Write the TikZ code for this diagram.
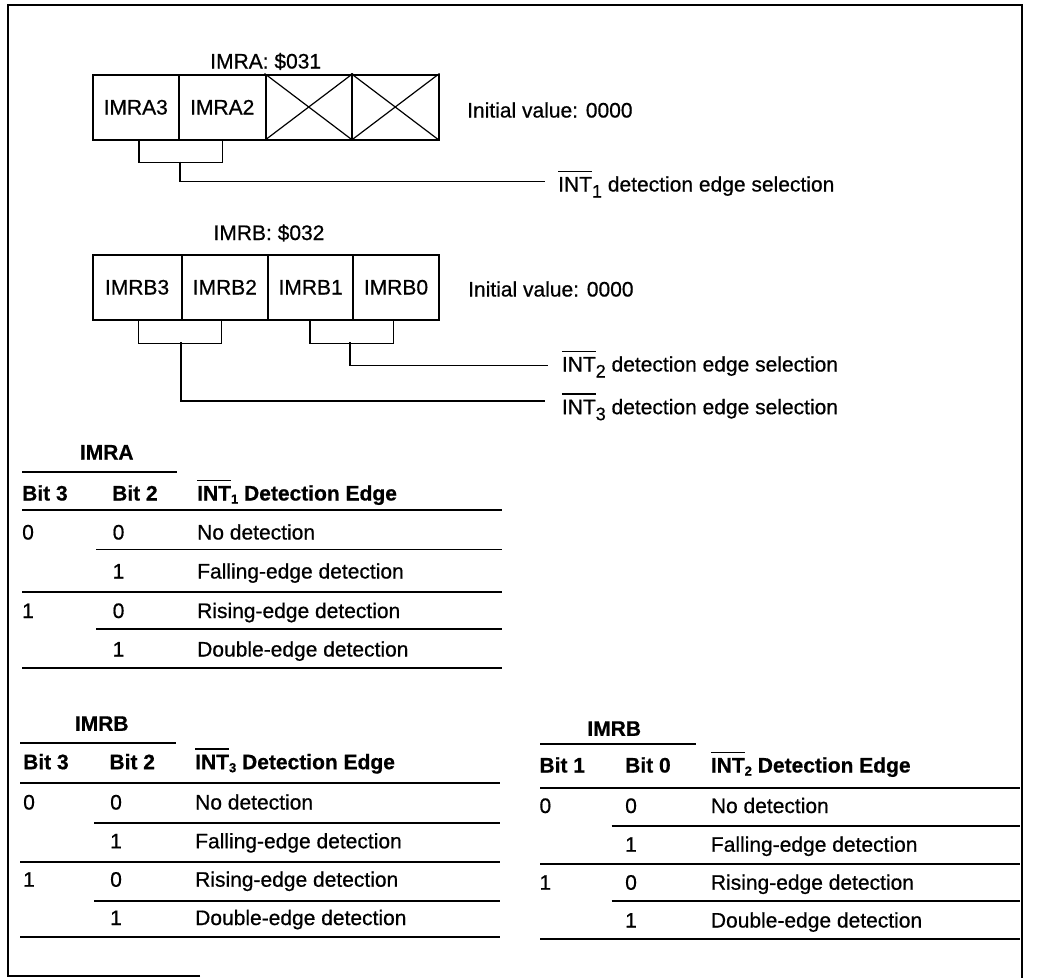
\documentclass[tikz,border=0pt]{standalone}
\usepackage{fontspec}
\setmainfont{Liberation Sans}[FakeBold=0.6]
\newcommand\ovl[1]{\leavevmode\vbox{\hrule height 1.4pt\kern 5pt\hbox{#1}}}
\newcommand\rsub[1]{\raisebox{-6pt}{\fontsize{18}{18}\selectfont #1}}
\newcommand\hsub[1]{\raisebox{-3pt}{\fontsize{13}{13}\selectfont #1}}
\tikzset{
  txt/.style={font=\fontsize{21}{25}\selectfont, inner sep=0pt, text height=15pt, text depth=0pt},
  lt/.style={txt, anchor=west},
  bt/.style={txt, anchor=west, font=\fontsize{21}{25}\selectfont\bfseries},
  btc/.style={txt, anchor=center, font=\fontsize{21}{25}\selectfont\bfseries},
  regcell/.style={draw, line width=2pt, txt, minimum height=65pt},
  cross/.style={line width=1.2pt},
  conn/.style={line width=1.3pt},
  tabrule/.style={line width=1.8pt},
  framestyle/.style={line width=2.5pt}
}
\begin{document}
\begin{tikzpicture}[x=1pt,y=-1pt]
\useasboundingbox (0,0) rectangle (1038,978);
% frame
\draw[framestyle] (200,976) -- (8,976) -- (8,5) -- (1022,5) -- (1022,978);

% ---------------- IMRA register
\node[txt] (ta) at (265.7,61) {IMRA: \$031};
\node[regcell, minimum width=86.5pt] (a3) at (135.75,107) {IMRA3};
\node[regcell, minimum width=86.5pt] (a2) at (222.25,107) {IMRA2};
\node[regcell, minimum width=86.5pt] (a1) at (308.75,107) {};
\node[regcell, minimum width=86.5pt] (a0) at (395.25,107) {};
\draw[cross] (a1.north west) -- (a1.south east) (a1.south west) -- (a1.north east);
\draw[cross] (a0.north west) -- (a0.south east) (a0.south west) -- (a0.north east);
\node[lt] (iva) at (467,110) {Initial value: 0000};
\node[lt] (l1) at (558,184) {\ovl{INT}\rsub{1} detection edge selection};
\draw[conn] ([xshift=3.2pt]a3.south) -- ++(0,21.7) -| ([xshift=0.4pt]a2.south);
\coordinate (ja) at (180,161.7);
\draw[conn] (ja) |- ([xshift=-13pt,yshift=2.3pt]l1.west);

% ---------------- IMRB register
\node[txt] (tb) at (269,232.5) {IMRB: \$032};
\node[regcell, minimum width=89.2pt] (b3) at (137.1,287) {IMRB3};
\node[regcell, minimum width=86.3pt] (b2) at (224.85,287) {IMRB2};
\node[regcell, minimum width=85.3pt] (b1) at (310.65,287) {IMRB1};
\node[regcell, minimum width=85.4pt] (b0) at (396,287) {IMRB0};
\node[lt] (ivb) at (468,289) {Initial value: 0000};
\node[lt] (l2) at (561.7,364) {\ovl{INT}\rsub{2} detection edge selection};
\node[lt] (l3) at (561.7,406.7) {\ovl{INT}\rsub{3} detection edge selection};
\draw[conn] ([xshift=1.2pt]b3.south) -- ++(0,22.8) -| ([xshift=-3.1pt]b2.south);
\draw[conn] ([xshift=-0.6pt]b1.south) -- ++(0,22.8) -| ([xshift=-2.7pt]b0.south);
\coordinate (jb32) at (181,342.3);
\coordinate (jb10) at (350,342.3);
\draw[conn] (jb10) |- ([xshift=-13.7pt,yshift=-1.7pt]l2.west);
\draw[conn] (jb32) |- ([xshift=-16.7pt,yshift=5.7pt]l3.west);

% ---------------- Table IMRA (INT1)
\node[btc] (tAt) at (106.7,452) {IMRA};
\node[bt] (tAh1) at (22,493) {Bit 3};
\node[bt] (tAh2) at (112,493) {Bit 2};
\node[bt] (tAh3) at (197,493) {\ovl{INT}\hsub{1} Detection Edge};
\node[lt] (tA11) at (22,532) {0};
\node[lt] (tA12) at (112.5,532) {0};
\node[lt] (tA13) at (197,532) {No detection};
\node[lt] (tA22) at (112.5,571) {1};
\node[lt] (tA23) at (197,571) {Falling-edge detection};
\node[lt] (tA31) at (22,610.5) {1};
\node[lt] (tA32) at (112.5,610.5) {0};
\node[lt] (tA33) at (197,610.5) {Rising-edge detection};
\node[lt] (tA42) at (112.5,649) {1};
\node[lt] (tA43) at (197,649) {Double-edge detection};
\draw[tabrule] (22,471.7) -- (176.7,471.7);
\draw[tabrule] (22,510) -- (501.7,510);
\draw[tabrule] (96,549.5) -- (501.7,549.5);
\draw[tabrule] (22,592) -- (501.7,592);
\draw[tabrule] (96,629.3) -- (501.7,629.3);
\draw[tabrule] (22,668.3) -- (501.7,668.3);

% ---------------- Table IMRB (INT3)
\node[btc] (tBt) at (101.7,723.3) {IMRB};
\node[bt] (tBh1) at (23,761.7) {Bit 3};
\node[bt] (tBh2) at (109.3,761.7) {Bit 2};
\node[bt] (tBh3) at (195,761.7) {\ovl{INT}\hsub{3} Detection Edge};
\node[lt] (tB11) at (23,802) {0};
\node[lt] (tB12) at (110,802) {0};
\node[lt] (tB13) at (195,802) {No detection};
\node[lt] (tB22) at (110,840.8) {1};
\node[lt] (tB23) at (195,840.8) {Falling-edge detection};
\node[lt] (tB31) at (23,879.2) {1};
\node[lt] (tB32) at (110,879.2) {0};
\node[lt] (tB33) at (195,879.2) {Rising-edge detection};
\node[lt] (tB42) at (110,917.5) {1};
\node[lt] (tB43) at (195,917.5) {Double-edge detection};
\draw[tabrule] (20,742.7) -- (176,742.7);
\draw[tabrule] (20,783.3) -- (500,783.3);
\draw[tabrule] (94,823.3) -- (500,823.3);
\draw[tabrule] (20,861.7) -- (500,861.7);
\draw[tabrule] (94,900.7) -- (500,900.7);
\draw[tabrule] (20,937.3) -- (500,937.3);

% ---------------- Table IMRB (INT2)
\node[btc] (tCt) at (614.2,728.3) {IMRB};
\node[bt] (tCh1) at (539.3,765) {Bit 1};
\node[bt] (tCh2) at (625,765) {Bit 0};
\node[bt] (tCh3) at (710.7,765) {\ovl{INT}\hsub{2} Detection Edge};
\node[lt] (tC11) at (539.3,805.5) {0};
\node[lt] (tC12) at (625,805.5) {0};
\node[lt] (tC13) at (710.7,805.5) {No detection};
\node[lt] (tC22) at (625,844.2) {1};
\node[lt] (tC23) at (710.7,844.2) {Falling-edge detection};
\node[lt] (tC31) at (539.3,882.2) {1};
\node[lt] (tC32) at (625,882.2) {0};
\node[lt] (tC33) at (710.7,882.2) {Rising-edge detection};
\node[lt] (tC42) at (625,920) {1};
\node[lt] (tC43) at (710.7,920) {Double-edge detection};
\draw[tabrule] (540,744.3) -- (696,744.3);
\draw[tabrule] (540,788.3) -- (1020,788.3);
\draw[tabrule] (611.7,826) -- (1020,826);
\draw[tabrule] (540,864) -- (1020,864);
\draw[tabrule] (611.7,900.7) -- (1020,900.7);
\draw[tabrule] (540,939.3) -- (1020,939.3);
\end{tikzpicture}
\end{document}
